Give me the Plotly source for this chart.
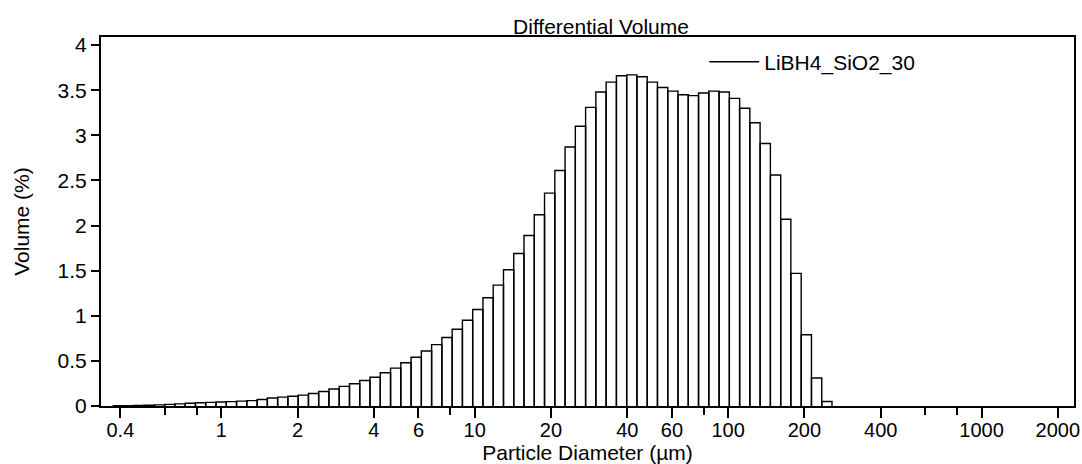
import plotly.graph_objects as go

# Channel edges (µm) of the size bins
bin_edges = [0.375, 0.412, 0.452, 0.496, 0.545, 0.598, 0.656, 0.721, 0.791, 0.868,
             0.953, 1.047, 1.149, 1.261, 1.385, 1.520, 1.669, 1.832, 2.011, 2.208,
             2.423, 2.660, 2.920, 3.206, 3.519, 3.862, 4.241, 4.656, 5.111, 5.611,
             6.159, 6.761, 7.422, 8.148, 8.944, 9.819, 10.78, 11.83, 12.99, 14.26,
             15.65, 17.18, 18.86, 20.71, 22.73, 24.95, 27.39, 30.07, 33.01, 36.24,
             39.78, 43.67, 47.94, 52.62, 57.77, 63.41, 69.61, 76.42, 83.90, 92.10,
             101.1, 111.0, 121.8, 133.7, 146.8, 161.2, 176.8, 194.2, 213.2, 234.1,
             256.9]

# Differential volume (%) per bin
volume_pct = [0.002, 0.004, 0.006, 0.009, 0.013, 0.018, 0.024, 0.030, 0.036, 0.040,
              0.045, 0.048, 0.054, 0.060, 0.072, 0.088, 0.098, 0.108, 0.120, 0.139,
              0.161, 0.189, 0.217, 0.246, 0.283, 0.318, 0.369, 0.42, 0.48, 0.54,
              0.61, 0.68, 0.76, 0.85, 0.95, 1.07, 1.20, 1.34, 1.51, 1.69,
              1.89, 2.12, 2.36, 2.61, 2.87, 3.10, 3.31, 3.48, 3.59, 3.66,
              3.67, 3.65, 3.59, 3.53, 3.49, 3.45, 3.44, 3.47, 3.49, 3.48,
              3.41, 3.30, 3.14, 2.91, 2.56, 2.07, 1.47, 0.79, 0.31, 0.05]

series_name = "LiBH4_SiO2_30"

major_ticks = [0.4, 1, 2, 4, 6, 10, 20, 40, 60, 100, 200, 400, 1000, 2000]
major_labels = ["0.4", "1", "2", "4", "6", "10", "20", "40", "60", "100", "200", "400", "1000", "2000"]
minor_ticks = [0.6, 0.8, 8, 80, 600, 800]

y_ticks = [0, 0.5, 1, 1.5, 2, 2.5, 3, 3.5, 4]
y_labels = ["0", "0.5", "1", "1.5", "2", "2.5", "3", "3.5", "4"]

# Build histogram outline from the bins
xs, ys = [], []
for k, h in enumerate(volume_pct):
    x0, x1 = bin_edges[k], bin_edges[k + 1]
    xs += [x0, x0, x1, x1, None]
    ys += [0, h, h, 0, None]

FONT = "Liberation Sans, Arial, Helvetica, sans-serif"
FS = 21
TFS = 20

fig = go.Figure()
fig.add_trace(go.Scatter(
    x=xs, y=ys, mode="lines", name=series_name,
    line=dict(color="black", width=1.4),
    showlegend=True, hoverinfo="skip",
))

fig.update_layout(
    width=1082, height=464,
    margin=dict(l=101, r=2, t=37, b=58),
    paper_bgcolor="white", plot_bgcolor="white",
    font=dict(family=FONT, size=FS, color="black"),
    title=dict(text="Differential Volume", x=601 / 1082, xref="container", xanchor="center",
               y=1 - 27 / 464, yref="container", yanchor="middle",
               font=dict(size=FS, color="black")),
    legend=dict(x=0.62, y=0.932, xanchor="left", yanchor="middle",
                bgcolor="rgba(0,0,0,0)", borderwidth=0,
                font=dict(size=FS), itemwidth=50),
    showlegend=True,
)

fig.update_xaxes(
    type="log", range=[-0.4745, 3.3647],
    tickmode="array", tickvals=major_ticks, ticktext=major_labels,
    ticks="outside", ticklen=10, tickwidth=1.5, tickcolor="black",
    tickfont=dict(size=TFS), ticklabeloverflow="allow", ticklabelstandoff=-5,
    minor=dict(tickmode="array", tickvals=minor_ticks, ticks="outside",
               ticklen=7, tickwidth=1.5, tickcolor="black", showgrid=False),
    showline=True, linecolor="black", linewidth=2, mirror=True,
    showgrid=False, zeroline=False,
    title=dict(text="Particle Diameter (µm)", standoff=5, font=dict(size=FS)),
)
fig.update_yaxes(
    range=[0, 4.09],
    tickmode="array", tickvals=y_ticks, ticktext=y_labels,
    ticks="outside", ticklen=8, tickwidth=1.5, tickcolor="black",
    tickfont=dict(size=FS),
    showline=True, linecolor="black", linewidth=2, mirror=True,
    showgrid=False, zeroline=False,
    title=dict(text="Volume (%)", standoff=22, font=dict(size=FS)),
)

fig.write_html(
    "out.html",
    config={"displayModeBar": False},
    post_script="document.body.style.margin='0';document.body.style.overflow='hidden';",
)
